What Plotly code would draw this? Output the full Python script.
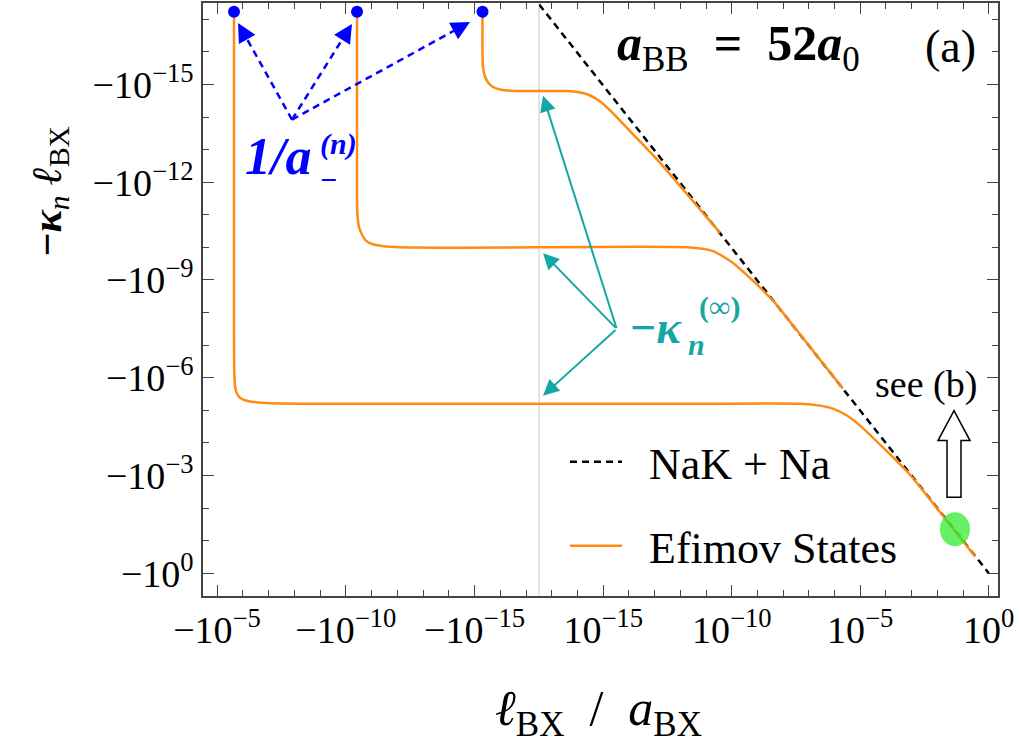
import plotly.graph_objects as go

# ---------------- data ----------------
# x = l_BX / a_BX  (negative on the left half), kappa*l magnitudes (axis shows -kappa_n l_BX)
n0_left_x = [-2.19e-6, -2.19e-6, -2.14e-6, -2.0e-6, -1.74e-6, -1.29e-6, -6.3e-7, -1.38e-7, -6.0e-9, -3.16e-18]
n0_left_k = [5.9e-18, 3.6e-8, 6.1e-7, 1.77e-6, 2.9e-6, 4.1e-6, 5.2e-6, 6.0e-6, 6.3e-6, 6.3e-6]
n0_right_x = [3.16e-18, 5.7e-12, 4.6e-8, 2.7e-7, 8.7e-7, 3.0e-6, 9.8e-6, 7.8e-5, 8.7e-4, 1.66e-2, 0.29]
n0_right_k = [6.3e-6, 6.3e-6, 6.3e-6, 7.2e-6, 8.9e-6, 1.45e-5, 2.95e-5, 1.4e-4, 9.5e-4, 1.75e-2, 0.30]

n1_left_x = [-3.67e-11, -3.67e-11, -3.5e-11, -3.1e-11, -2.35e-11, -1.66e-11, -9.5e-12, -3.9e-12, -7.9e-13, -3.16e-18]
n1_left_k = [5.9e-18, 3.8e-12, 1.1e-11, 2.3e-11, 4.1e-11, 6.2e-11, 7.9e-11, 9.1e-11, 1.0e-10, 1.0e-10]
n1_right_x = [3.16e-18, 1.8e-12, 1.86e-11, 1.12e-10, 6.8e-10, 4.1e-9, 1.9e-8, 2.1e-6]
n1_right_k = [1.0e-10, 1.0e-10, 1.3e-10, 3.0e-10, 1.07e-9, 4.4e-9, 1.95e-8, 2.15e-6]

n2_left_x = [-4.93e-16, -4.93e-16, -4.72e-16, -3.96e-16, -3.0e-16, -1.93e-16, -1.03e-16, -2.7e-17, -3.16e-18]
n2_left_k = [5.9e-18, 1.39e-16, 3.0e-16, 5.7e-16, 8.7e-16, 1.2e-15, 1.42e-15, 1.58e-15, 1.6e-15]
n2_right_x = [3.16e-18, 3.9e-17, 2.36e-16, 7.4e-16, 2.4e-15, 1.45e-14, 1.23e-13, 1.8e-12, 3.5e-11]
n2_right_k = [1.6e-15, 1.6e-15, 2.0e-15, 3.3e-15, 7.7e-15, 3.4e-14, 2.0e-13, 2.3e-12, 3.6e-11]

dimer_x = [3.2e-18, 1.0]          # NaK + Na threshold
dimer_k = [3.5e-18, 1.0]

a_minus_x = [-2.19e-6, -3.67e-11, -4.93e-16]   # 1/a_-^(n) points
a_minus_k = [5.9e-18, 5.9e-18, 5.9e-18]
unitarity_x = [3.16e-18, 3.16e-18, 3.16e-18]   # -kappa_n^(inf) points
unitarity_k = [6.3e-6, 1.0e-10, 1.6e-15]

x_left_ticks = [1e-5, 1e-10, 1e-15]
x_left_labels = ["−10<sup>−5</sup>", "−10<sup>−10</sup>", "−10<sup>−15</sup>"]
x_right_ticks = [1e-15, 1e-10, 1e-5, 1.0]
x_right_labels = ["10<sup>−15</sup>", "10<sup>−10</sup>", "10<sup>−5</sup>", "10<sup>0</sup>"]
y_ticks = [1e-15, 1e-12, 1e-9, 1e-6, 1e-3, 1.0]
y_labels = ["−10<sup>−15</sup>", "−10<sup>−12</sup>", "−10<sup>−9</sup>", "−10<sup>−6</sup>",
            "−10<sup>−3</sup>", "−10<sup>0</sup>"]

# ---------------- styling ----------------
ORANGE = "#FF8A14"
TEAL = "#15A6A6"
BLUE = "#0000FF"
AX = "#444444"
FONT = "Liberation Serif"
NB = "\u00a0"

W, H = 1019, 749
L, R, T, B = 203, 998, 1, 596
D = (539 - L) / (R - L)


def PX(x):
    return (x - L) / (R - L)


def PY(y):
    return (B - y) / (B - T)


def minor_decades(lo, hi, majors):
    return [10.0 ** e for e in range(lo, hi + 1) if not any(abs(10.0 ** e - m) / m < 1e-6 for m in majors)]


fig = go.Figure()

# dimer threshold line (right half)
fig.add_trace(go.Scatter(x=dimer_x, y=dimer_k, xaxis="x2", yaxis="y2", mode="lines",
                         line=dict(color="black", width=2.5, dash="7px,5px"),
                         name=NB * 2 + "NaK + Na", legendgroup="a", legendrank=1))

first = True
for lx, lk, rx, rk in [(n0_left_x, n0_left_k, n0_right_x, n0_right_k),
                       (n1_left_x, n1_left_k, n1_right_x, n1_right_k),
                       (n2_left_x, n2_left_k, n2_right_x, n2_right_k)]:
    fig.add_trace(go.Scatter(x=[abs(v) for v in lx], y=lk, xaxis="x", yaxis="y", mode="lines",
                             line=dict(color=ORANGE, width=2.5, shape="spline", smoothing=0.6),
                             name=NB * 2 + "Efimov States", legendgroup="b", showlegend=first, legendrank=2))
    fig.add_trace(go.Scatter(x=rx, y=rk, xaxis="x2", yaxis="y2", mode="lines",
                             line=dict(color=ORANGE, width=2.5, shape="spline", smoothing=0.6),
                             name="Efimov States", legendgroup="b", showlegend=False))
    first = False

fig.add_trace(go.Scatter(x=[abs(v) for v in a_minus_x], y=a_minus_k, xaxis="x", yaxis="y", mode="markers",
                         marker=dict(color=BLUE, size=12), cliponaxis=False, showlegend=False))
fig.add_trace(go.Scatter(x=unitarity_x, y=unitarity_k, xaxis="x2", yaxis="y2", mode="markers",
                         marker=dict(color=TEAL, size=12), cliponaxis=False, showlegend=False))

common_axis = dict(showgrid=False, zeroline=False, showline=True, linecolor=AX, linewidth=1.5,
                   ticks="inside", ticklen=11, tickwidth=1.3, tickcolor=AX,
                   tickfont=dict(family=FONT, size=38, color="black"))
minor_common = dict(ticks="inside", ticklen=6, tickwidth=1.2, tickcolor=AX, showgrid=False)

fig.update_layout(
    width=W, height=H, plot_bgcolor="white", paper_bgcolor="white",
    margin=dict(l=L, r=W - R, t=T, b=H - B),
    font=dict(family=FONT, color="black"),
    xaxis=dict(domain=[0, D], type="log", range=[-4.456, -17.5], anchor="y", mirror="ticks",
               tickmode="array", tickvals=x_left_ticks, ticktext=x_left_labels,
               minor=dict(tickmode="array", tickvals=minor_decades(-17, -5, x_left_ticks), **minor_common),
               **common_axis),
    xaxis2=dict(domain=[D, 1], type="log", range=[-17.5, 0.36], anchor="y2", mirror="ticks",
                tickmode="array", tickvals=x_right_ticks, ticktext=x_right_labels,
                minor=dict(tickmode="array", tickvals=minor_decades(-17, 0, x_right_ticks), **minor_common),
                **common_axis),
    yaxis=dict(domain=[0, 1], type="log", range=[0.70, -17.5], anchor="x", side="left",
               tickmode="array", tickvals=y_ticks, ticktext=y_labels,
               minor=dict(tickmode="array", tickvals=minor_decades(-17, 0, y_ticks), **minor_common),
               **common_axis),
    yaxis2=dict(domain=[0, 1], type="log", range=[0.70, -17.5], anchor="x2", side="right",
                tickmode="array", tickvals=y_ticks, showticklabels=False,
                minor=dict(tickmode="array", tickvals=minor_decades(-17, 0, y_ticks), **minor_common),
                **common_axis),
    legend=dict(x=PX(565), y=PY(426), xanchor="left", yanchor="top", bgcolor="rgba(0,0,0,0)",
                font=dict(family=FONT, size=44, color="black"), tracegroupgap=24,
                traceorder="grouped", itemwidth=52),
)

shapes = []
# unitarity line
shapes.append(dict(type="line", xref="paper", yref="paper", x0=D, x1=D, y0=0, y1=1,
                   line=dict(color="#C8C8C8", width=1), layer="below"))

# blue dashed arrows
tail = (292, 118)
heads = [(238, 21), (352, 22), (470, 20)]
ann = []
for hx, hy in heads:
    vx, vy = tail[0] - hx, tail[1] - hy
    ln = (vx ** 2 + vy ** 2) ** 0.5
    ux, uy = vx / ln, vy / ln
    shapes.append(dict(type="line", xref="paper", yref="paper",
                       x0=PX(tail[0]), y0=PY(tail[1]), x1=PX(hx + ux * 10), y1=PY(hy + uy * 10),
                       line=dict(color=BLUE, width=2.5, dash="7px,5px")))
    ann.append(dict(xref="paper", yref="paper", x=PX(hx), y=PY(hy), text="", showarrow=True,
                    ax=ux * 18, ay=uy * 18, arrowhead=2, arrowsize=1.5, arrowwidth=2.5, arrowcolor=BLUE))

# teal arrows
ttail = (617, 328)
for hx, hy in [(543, 94), (543, 252), (543, 395)]:
    ann.append(dict(xref="paper", yref="paper", x=PX(hx), y=PY(hy), text="", showarrow=True,
                    ax=ttail[0] - hx, ay=ttail[1] - hy, arrowhead=2, arrowsize=1.6, arrowwidth=2,
                    arrowcolor=TEAL))

# hollow "see (b)" arrow
pts = [(954, 410), (970, 440), (961, 440), (961, 497), (947, 497), (947, 440), (938, 440)]
path = "M " + " L ".join(f"{PX(a):.5f},{PY(b):.5f}" for a, b in pts) + " Z"
shapes.append(dict(type="path", xref="paper", yref="paper", path=path, fillcolor="white",
                   line=dict(color="black", width=1.5)))

# green ellipse
shapes.append(dict(type="circle", xref="paper", yref="paper", x0=PX(940), x1=PX(970), y0=PY(546), y1=PY(512),
                   fillcolor="rgba(40,235,40,0.72)", line=dict(width=0), layer="above"))


def text(x, y, s, size, color="black", xanchor="center", yanchor="middle", **kw):
    ann.append(dict(xref="paper", yref="paper", x=PX(x), y=PY(y), text=s, showarrow=False,
                    xanchor=xanchor, yanchor=yanchor, font=dict(family=FONT, size=size, color=color), **kw))


# axis titles
text(598, 712, "<i>ℓ</i><sub>BX</sub>  /  <i>a</i><sub>BX</sub>", 50)
text(50, 190, "<b>−<i>κ</i></b><sub><i>n</i></sub> <b><i>ℓ</i></b><sub>BX</sub>", 42, textangle=-90)

# 1/a_-^(n)
text(243, 155, "<b><i>1/a</i></b>", 52, BLUE, xanchor="left")
text(318, 142, "<b><i>(n)</i></b>", 30, BLUE, xanchor="left")
text(318, 178, "<b>−</b>", 30, BLUE, xanchor="left")

# -kappa_n^(inf)
text(628, 327, "<b>−<i>κ</i></b>", 46, TEAL, xanchor="left")
text(686, 344, "<b><i>n</i></b>", 30, TEAL, xanchor="left")
text(697, 306, "<b>(∞)</b>", 30, TEAL, xanchor="left")

# labels
text(615, 45, "<b><i>a</i></b><sub>BB</sub><b>" + NB * 2 + "=" + NB * 2 + "52<i>a</i></b><sub>0</sub>",
     50, xanchor="left")
text(950, 45, "(a)", 46)
text(926, 384, "see (b)", 38)

fig.update_layout(shapes=shapes, annotations=ann)
fig.write_html("out.html", config={"displayModeBar": False},
               post_script="document.body.style.margin='0';document.body.style.overflow='hidden';")
